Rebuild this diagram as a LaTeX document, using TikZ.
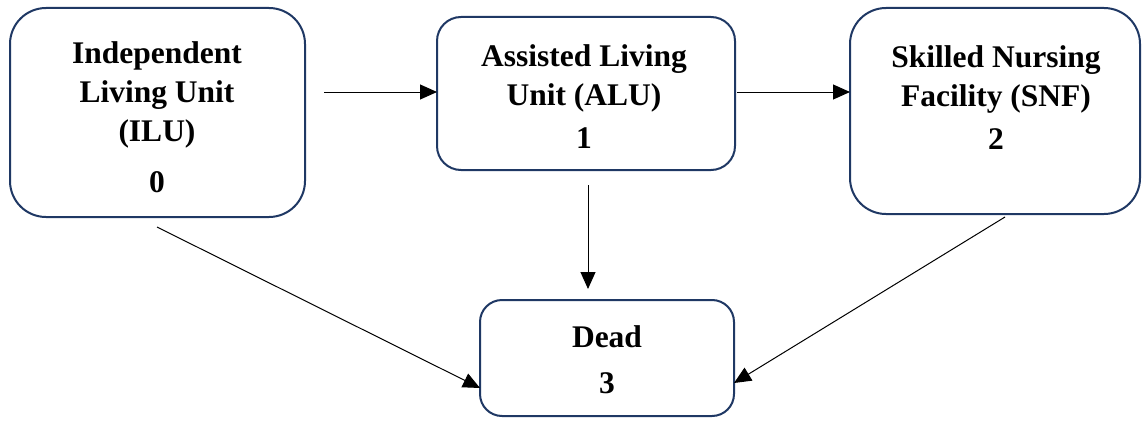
\documentclass[tikz,border=0pt]{standalone}
\usepackage{fontspec}
\setmainfont{Liberation Serif}
\usetikzlibrary{arrows.meta}
\definecolor{boxblue}{HTML}{1F3864}
\begin{document}
\begin{tikzpicture}[x=1pt,y=-1pt,
  stbox/.style={draw=boxblue,line width=2pt,fill=white,rectangle,inner sep=0pt},
  lbl/.style={align=center,font=\fontsize{31.5}{39}\selectfont\bfseries,inner sep=0pt},
  arr/.style={-{Triangle[length=17pt,width=15pt]},line width=1pt,black}]
\useasboundingbox (0,0) rectangle (1142,420);
% boxes
\node[stbox,rounded corners=36pt,minimum width=295pt,minimum height=209pt] (ilu) at (157.5,112.5) {};
\node[stbox,rounded corners=24pt,minimum width=298pt,minimum height=153pt] (alu) at (586,93.5) {};
\node[stbox,rounded corners=36pt,minimum width=290pt,minimum height=206pt] (snf) at (995,111) {};
\node[stbox,rounded corners=22pt,minimum width=254pt,minimum height=116pt] (dead) at (607,358) {};
% labels
\node[lbl] (iluT) at (157,117) {Independent\\Living Unit\\(ILU)\\[12pt]0};
\node[lbl] (aluT) at (584,97) {Assisted Living\\Unit (ALU)\\[4pt]1};
\node[lbl] (snfT) at (996,97.5) {Skilled Nursing\\Facility (SNF)\\[4pt]2};
\node[lbl] (deadT) at (607,360) {Dead\\[7pt]3};
% free ends
\coordinate (a0) at (324,92);
\coordinate (b0) at (737,92);
\coordinate (c0) at (588,185);
\coordinate (c1) at (588,289);
\coordinate (d0) at (157,227);
\coordinate (e0) at (1005,217);
\coordinate (aluW) at (437,92);
\coordinate (snfW) at (850,92);
\coordinate (deadL) at (480,388);
\coordinate (deadR) at (734,383);
% connectors
\draw[arr] (a0) -- (aluW);
\draw[arr] (b0) -- (snfW);
\draw[arr] (c0) -- (c1);
\draw[arr] (d0) -- (deadL);
\draw[arr] (e0) -- (deadR);
\end{tikzpicture}
\end{document}
